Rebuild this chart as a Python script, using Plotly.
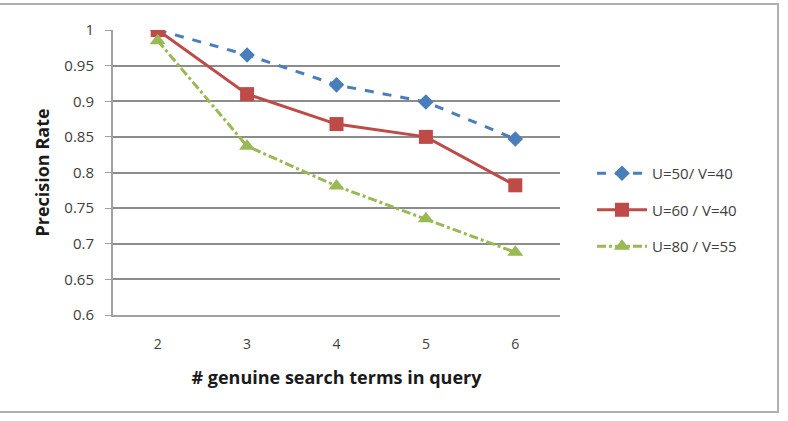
import plotly.graph_objects as go

categories = ["2", "3", "4", "5", "6"]
series_names = ["U=50/ V=40", "U=60 / V=40", "U=80 / V=55"]
blue_vals = [1.0, 0.965, 0.923, 0.899, 0.847]
red_vals = [1.0, 0.910, 0.868, 0.850, 0.782]
green_vals = [0.985, 0.837, 0.781, 0.735, 0.688]
y_ticks = [0.6, 0.65, 0.7, 0.75, 0.8, 0.85, 0.9, 0.95, 1.0]
y_tick_labels = ["0.6", "0.65", "0.7", "0.75", "0.8", "0.85", "0.9", "0.95", "1"]

W, H = 788, 421
ml, mr, mt, mb = 113, 228, 30, 106
pw, ph = W - ml - mr, H - mt - mb

fig = go.Figure()
fig.add_trace(go.Scatter(
    x=categories, y=blue_vals, name=series_names[0], mode="lines+markers",
    line=dict(color="#4a7ebb", width=3, dash="dash"),
    marker=dict(symbol="diamond", size=12, color="#4a7ebb"),
    legendgroup="a"))
fig.add_trace(go.Scatter(
    x=categories, y=red_vals, name=series_names[1], mode="lines+markers",
    line=dict(color="#be4b48", width=3),
    marker=dict(symbol="square", size=14, color="#be4b48"),
    legendgroup="b"))
fig.add_trace(go.Scatter(
    x=categories, y=green_vals, name=series_names[2], mode="lines+markers",
    line=dict(color="#98b954", width=3, dash="dashdot"),
    marker=dict(symbol="triangle-up", size=14, color="#98b954"),
    legendgroup="c"))

font = "Open Sans, Noto Sans, sans-serif"
fig.update_layout(
    width=W, height=H,
    margin=dict(l=ml, r=mr, t=mt, b=mb, autoexpand=False),
    paper_bgcolor="white", plot_bgcolor="white",
    font=dict(family=font, size=14, color="#404040"),
    showlegend=True,
    legend=dict(xref="container", yref="container",
                x=592 / W, y=1 - 157 / H, xanchor="left", yanchor="top",
                font=dict(size=15, color="#404040"), tracegroupgap=14,
                bgcolor="rgba(0,0,0,0)", itemwidth=50),
    xaxis=dict(type="category", range=[-0.5, 4.5], showgrid=False,
               showline=True, linecolor="#a0a0a0", linewidth=2,
               ticks="", ticklabelstandoff=15,
               tickfont=dict(size=14, color="#404040"),
               title=dict(text="<b># genuine search terms in query</b>",
                          font=dict(size=18, color="#1a1a1a"), standoff=20)),
    yaxis=dict(range=[0.6, 1.0], tickvals=y_ticks, ticktext=y_tick_labels,
               showgrid=True, gridcolor="#8c8c8c", gridwidth=1.5,
               showline=True, linecolor="#a0a0a0", linewidth=2,
               ticks="outside", ticklen=6, tickcolor="#a0a0a0",
               ticklabelstandoff=8,
               tickfont=dict(size=15, color="#404040"),
               zeroline=False,
               title=dict(text="<b>Precision Rate</b>",
                          font=dict(size=18, color="#1a1a1a"), standoff=10)),
)

# outer chart border
fig.add_shape(type="rect", xref="paper", yref="paper",
              x0=(-3 - ml) / pw, x1=(778 - ml) / pw,
              y0=(H - mb - 412) / ph, y1=(H - mb - 4) / ph,
              line=dict(color="#b0b0b0", width=2), fillcolor="rgba(0,0,0,0)", layer="below")

fig.write_html("out.html")
